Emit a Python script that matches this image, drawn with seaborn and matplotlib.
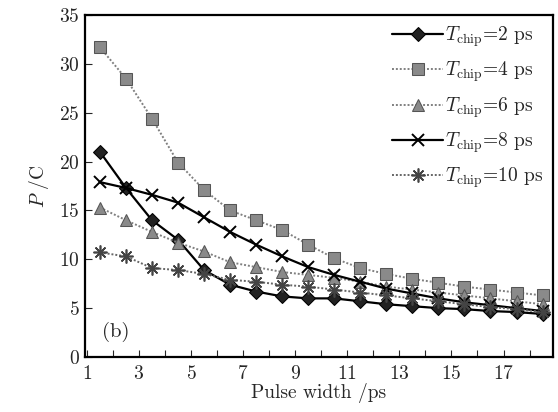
import matplotlib
matplotlib.use("Agg")
import matplotlib.pyplot as plt
import numpy as np
import pandas as pd
import seaborn as sns

pulse_width = [1.5, 2.5, 3.5, 4.5, 5.5, 6.5, 7.5, 8.5, 9.5, 10.5,
               11.5, 12.5, 13.5, 14.5, 15.5, 16.5, 17.5, 18.5]
p_chip2 = [21.0, 17.3, 14.0, 12.0, 8.9, 7.4, 6.7, 6.2, 6.0, 6.0,
           5.7, 5.4, 5.2, 5.0, 4.9, 4.7, 4.6, 4.4]
p_chip4 = [31.7, 28.5, 24.4, 19.9, 17.1, 15.0, 14.0, 13.0, 11.5, 10.1,
           9.1, 8.5, 8.0, 7.6, 7.2, 6.9, 6.6, 6.3]
p_chip6 = [15.3, 14.0, 12.8, 11.7, 10.8, 9.7, 9.2, 8.7, 8.4, 8.1,
           7.7, 7.2, 6.9, 6.6, 6.3, 6.0, 5.7, 5.4]
p_chip8 = [17.9, 17.3, 16.6, 15.8, 14.3, 12.8, 11.5, 10.3, 9.2, 8.4,
           7.7, 7.0, 6.5, 6.0, 5.6, 5.3, 5.0, 4.7]
p_chip10 = [10.7, 10.3, 9.1, 8.9, 8.5, 7.9, 7.7, 7.4, 7.2, 6.9,
            6.6, 6.3, 6.0, 5.7, 5.4, 5.1, 4.9, 4.6]
labels = [r"$T_{\rm chip}$=2 ps", r"$T_{\rm chip}$=4 ps", r"$T_{\rm chip}$=6 ps",
          r"$T_{\rm chip}$=8 ps", r"$T_{\rm chip}$=10 ps"]

sns.set_style("ticks")
plt.rcParams["font.family"] = ["cmr10", "DejaVu Serif"]
plt.rcParams["mathtext.fontset"] = "cm"
plt.rcParams["axes.formatter.use_mathtext"] = True

series = [p_chip2, p_chip4, p_chip6, p_chip8, p_chip10]
styles = [
    dict(color="#000000", linestyle="-", lw=1.6, marker="D", ms=7.5, mfc="#222222", mec="#000000"),
    dict(color="#808080", linestyle=(0, (1, 1)), lw=1.4, marker="s", ms=8.5, mfc="#8a8a8a", mec="#555555"),
    dict(color="#808080", linestyle=(0, (1, 1)), lw=1.4, marker="^", ms=9, mfc="#8a8a8a", mec="#555555"),
    dict(color="#000000", linestyle="-", lw=1.6, marker="x", ms=9, mew=1.4, mec="#000000"),
    dict(color="#666666", linestyle=(0, (1, 1)), lw=1.4, marker=(8, 2, 0), ms=10, mew=1.2, mec="#444444"),
]

fig = plt.figure(figsize=(5.58, 4.12), dpi=100)
ax = fig.add_axes([0.152, 0.1335, 0.839, 0.830])

for vals, lab, st in zip(series, labels, styles):
    df = pd.DataFrame({"x": pulse_width, "y": vals})
    sns.lineplot(data=df, x="x", y="y", ax=ax, label=lab, **st)

ax.set_xlim(0.92, 18.9)
ax.set_ylim(0, 35)
ax.set_xticks(np.arange(2, 19, 1), minor=True)
ax.set_xticks([1, 3, 5, 7, 9, 11, 13, 15, 17])
ax.set_yticks(np.arange(0, 36, 5))
ax.tick_params(axis="both", which="both", direction="in", labelsize=14,
               top=False, right=False, length=5, width=0.8)
ax.tick_params(axis="x", pad=6)
for sp in ax.spines.values():
    sp.set_linewidth(1.6)
    sp.set_color("black")

ax.set_xlabel("Pulse width /ps", fontsize=14, labelpad=0)
ax.set_ylabel(r"$P$ /C", fontsize=14, labelpad=6)
ax.text(0.036, 0.074, "(b)", transform=ax.transAxes, fontsize=15, va="center", ha="left")

ax.legend(loc="upper right", frameon=False, fontsize=14, handlelength=2.6,
          handletextpad=0.1, labelspacing=0.55, borderaxespad=0.1)

fig.savefig("out.png", dpi=100)
